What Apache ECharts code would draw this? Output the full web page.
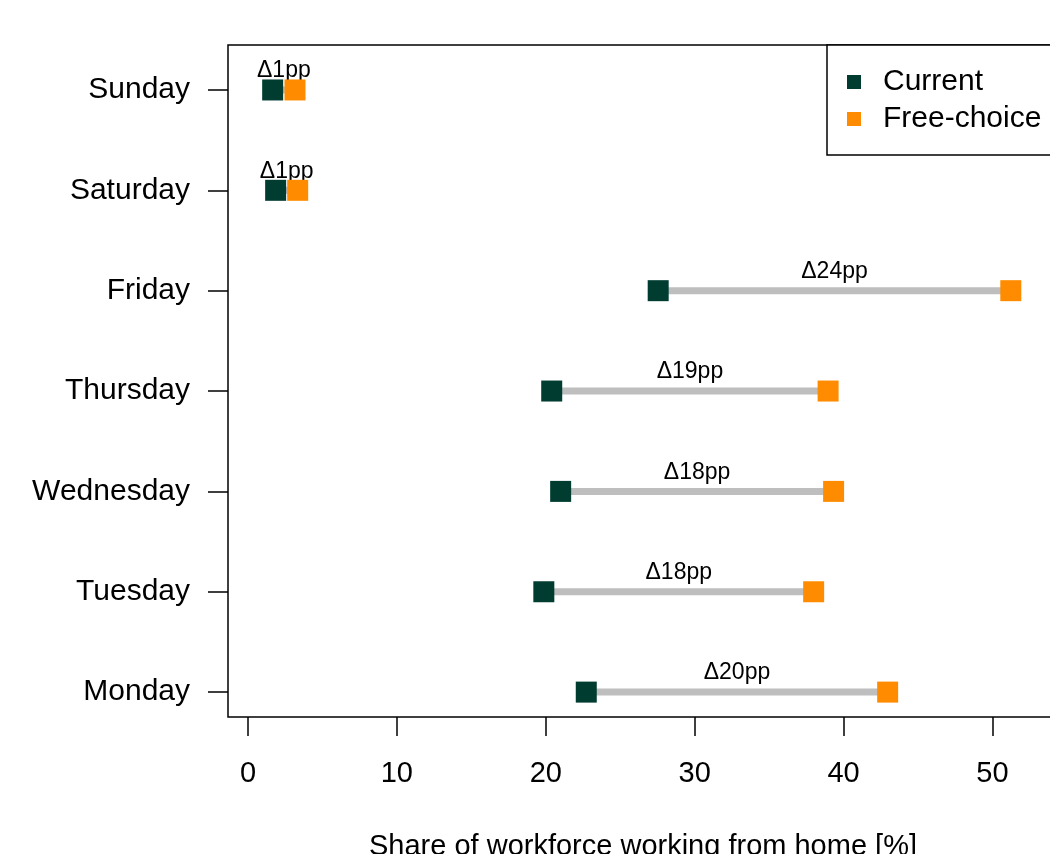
<!DOCTYPE html>
<html>
<head>
<meta charset="utf-8">
<script src="https://cdn.jsdelivr.net/npm/echarts@6/dist/echarts.min.js"></script>
<style>html,body{margin:0;padding:0;background:#fff}#main{width:1050px;height:854px}</style>
</head>
<body>
<div id="main"></div>
<script>
// Data
var days = ['Monday', 'Tuesday', 'Wednesday', 'Thursday', 'Friday', 'Saturday', 'Sunday'];
var currentShare = [22.72, 19.87, 21.0, 20.4, 27.55, 1.86, 1.66];
var freeChoiceShare = [42.96, 37.99, 39.33, 38.96, 51.23, 3.34, 3.16];
var deltaPP = [20, 18, 18, 19, 24, 1, 1];
var xTicks = [0, 10, 20, 30, 40, 50];
var dayPositions = [1, 2, 3, 4, 5, 6, 7];

var FONT = 'Liberation Sans, Arial, Helvetica, sans-serif';
var GREEN = '#003C30';
var ORANGE = '#FF8C00';

var chart = echarts.init(document.getElementById('main'), null, {renderer: 'canvas'});

var rows = days.map(function (d, i) {
  return [currentShare[i], freeChoiceShare[i], dayPositions[i], deltaPP[i]];
});

var option = {
  animation: false,
  backgroundColor: '#fff',
  grid: {
    left: 228, top: 45, width: 830, height: 672,
    containLabel: false,
    outerBoundsMode: 'none',
    show: true, borderColor: '#000', borderWidth: 1.5, backgroundColor: 'transparent'
  },
  legend: {
    orient: 'vertical',
    left: 827, top: 45,
    data: ['Current', 'Free-choice'],
    icon: 'rect',
    itemWidth: 14, itemHeight: 14,
    itemGap: 7,
    padding: [22, 40, 21, 20],
    borderColor: '#000', borderWidth: 1.5,
    backgroundColor: '#fff',
    textStyle: {fontFamily: FONT, fontSize: 30, color: '#000', lineHeight: 24, padding: [6, 0, 0, 17]}
  },
  xAxis: {
    type: 'value',
    min: -1.34, max: 54.4,
    axisLine: {show: false, onZero: false},
    splitLine: {show: false},
    axisTick: {show: true, length: 19, lineStyle: {color: '#000', width: 1.5}, customValues: xTicks},
    axisLabel: {customValues: xTicks, margin: 42, fontFamily: FONT, fontSize: 29, color: '#000'},
    name: 'Share of workforce working from home [%]',
    nameLocation: 'middle',
    nameGap: 115,
    nameTextStyle: {fontFamily: FONT, fontSize: 29, color: '#000'}
  },
  yAxis: {
    type: 'value',
    min: 0.752, max: 7.448,
    axisLine: {show: false, onZero: false},
    splitLine: {show: false},
    axisTick: {show: true, length: 20, lineStyle: {color: '#000', width: 1.5}, customValues: dayPositions},
    axisLabel: {
      customValues: dayPositions, margin: 38, fontFamily: FONT, fontSize: 30, color: '#000',
      padding: [11, 0, 0, 0],
      formatter: function (v) { return days[Math.round(v) - 1]; }
    }
  },
  series: [
    {
      type: 'custom',
      name: 'gap',
      data: rows,
      encode: {x: [0, 1], y: 2},
      z: 1,
      renderItem: function (params, api) {
        var a = api.coord([api.value(0), api.value(2)]);
        var b = api.coord([api.value(1), api.value(2)]);
        return {
          type: 'group',
          children: [
            {type: 'line', shape: {x1: a[0], y1: a[1], x2: b[0], y2: b[1]},
             style: {stroke: '#BEBEBE', lineWidth: 7}},
            {type: 'text', x: (a[0] + b[0]) / 2, y: a[1] - 19,
             style: {text: '\u0394' + api.value(3) + 'pp', fill: '#000', font: '23px ' + FONT,
                     textAlign: 'center', textVerticalAlign: 'middle'}}
          ]
        };
      }
    },
    {
      type: 'scatter', name: 'Current', symbol: 'rect', symbolSize: 21, z: 3,
      itemStyle: {color: GREEN, opacity: 1},
      data: days.map(function (d, i) { return [currentShare[i], dayPositions[i]]; })
    },
    {
      type: 'scatter', name: 'Free-choice', symbol: 'rect', symbolSize: 21, z: 4,
      itemStyle: {color: ORANGE, opacity: 1},
      data: days.map(function (d, i) { return [freeChoiceShare[i], dayPositions[i]]; })
    }
  ]
};
chart.setOption(option);
</script>
</body>
</html>
